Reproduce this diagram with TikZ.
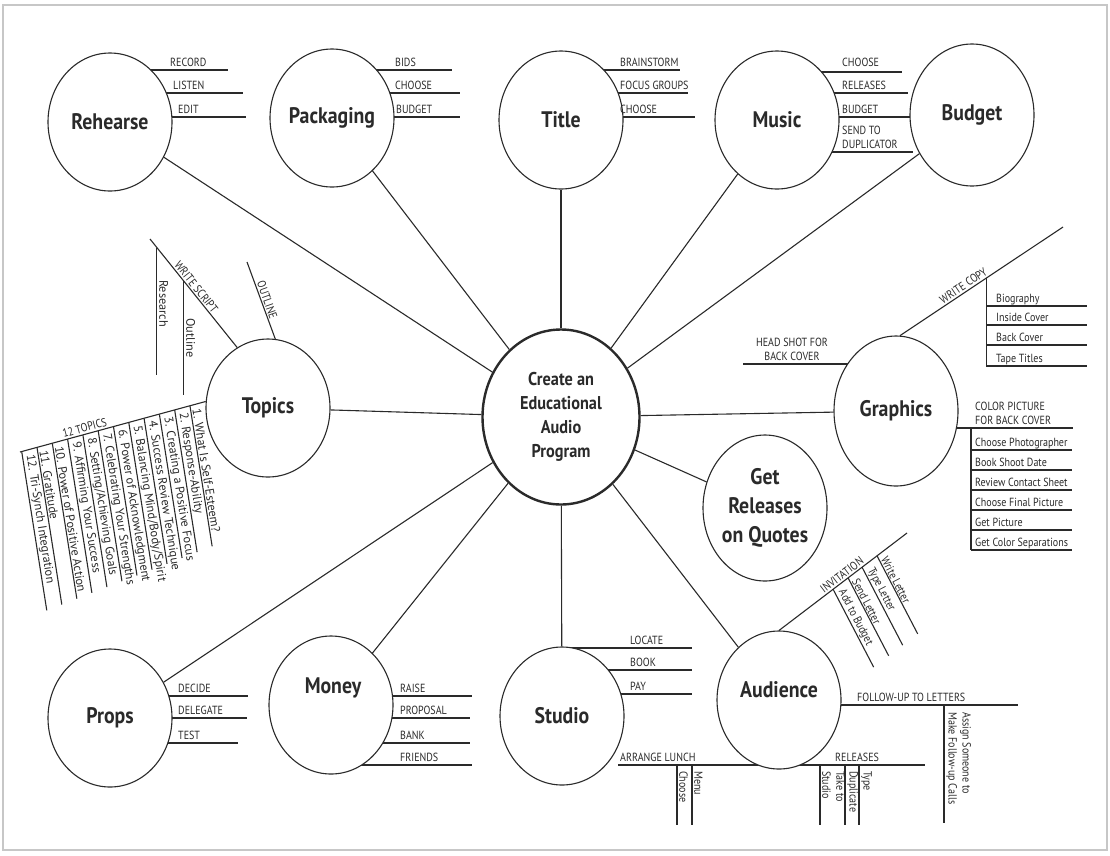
\documentclass[tikz,border=0pt]{standalone}
\usepackage{fontspec}
\setmainfont{PT Sans}
\newfontfamily\condf[FakeStretch=0.85]{PT Sans}
\newfontfamily\bubf[FakeStretch=0.88]{PT Sans}
\usetikzlibrary{shapes.geometric,calc}
\pgfdeclarelayer{bg}
\pgfsetlayers{bg,main}
\definecolor{ink}{HTML}{2A2A2A}
\tikzset{
  bub/.style={ellipse, draw=ink, line width=1.1pt, fill=white, inner sep=0pt,
    minimum width=124pt, minimum height=138pt, text=ink, align=center,
    font=\bubf\bfseries\fontsize{22.5}{29}\selectfont},
  btx/.style={inner sep=0pt, text=ink, font=\bubf\bfseries\fontsize{22.5}{29}\selectfont},
  lnk/.style={draw=ink, line width=1.1pt},
  br/.style={draw=ink, line width=1.1pt},
  tx/.style={inner sep=0pt, text=ink, font=\condf\fontsize{11.8}{14}\selectfont},
  tpx/.style={inner sep=0pt, text=ink, font=\fontsize{12.3}{14}\selectfont},
  tl/.style={tx, anchor=base west},
}
\begin{document}
\begin{tikzpicture}[x=1pt,y=-1pt]
\useasboundingbox (0,0) rectangle (1110,855);
\draw[black!22, line width=1.2pt] (3,5) rectangle (1107,850);

% bubbles
\node[bub] (reh) at (110,122) {Rehearse};
\node[bub] (pkg) at (332,118) {Packaging};
\node[bub] (tit) at (561,120) {Title};
\node[bub] (mus) at (777,120) {Music};
\node[bub, minimum height=142pt] (bud) at (972,115) {Budget};
\node[bub] (top) at (268,408) {Topics};
\node[bub, line width=2.4pt, minimum width=157pt, minimum height=175pt,
  font=\bubf\bfseries\fontsize{18.5}{24}\selectfont] (ctr) at (561,417)
  {Create an\\Educational\\Audio\\Program};
\node[bub, minimum height=150pt] (gra) at (896,411) {Graphics};
\node[bub, minimum height=146pt] (rel) at (765,508) {Get\\Releases\\on Quotes};
\node[bub] (prp) at (110,718) {Props};
\node[bub] (mon) at (331,705) {};
\node[btx] (monT) at (333,688) {Money};
\node[bub] (stu) at (562,716) {Studio};
\node[bub] (aud) at (779,700) {};
\node[btx] (audT) at (779,690) {Audience};

% hub connectors
\foreach \n in {reh,pkg,tit,mus,bud,top,gra,rel,prp,mon,stu,aud}
  \draw[lnk] (ctr) -- (\n);

\begin{pgfonlayer}{bg}
% Rehearse
\draw[br] (reh.center |- 0,70) -- (228,70);
\draw[br] (reh.center |- 0,93) -- (243,93);
\draw[br] (reh.center |- 0,117) -- (246,117);
% Packaging
\draw[br] (pkg.center |- 0,70) -- (452,70);
\draw[br] (pkg.center |- 0,93) -- (460,93);
\draw[br] (pkg.center |- 0,117) -- (460,117);
% Title
\draw[br] (tit.center |- 0,70) -- (680,70);
\draw[br] (tit.center |- 0,93) -- (688,93);
\draw[br] (tit.center |- 0,117) -- (695,117);
% Music
\draw[br] (mus.center |- 0,72) -- (902,72);
\draw[br] (mus.center |- 0,93) -- (908,93);
\draw[br] (mus.center |- 0,117) -- (913,117);
\draw[br] (mus.center |- 0,152) -- (913,152);
% Props
\draw[br] (prp.center |- 0,696) -- (248,696);
\draw[br] (prp.center |- 0,718) -- (247,718);
\draw[br] (prp.center |- 0,743) -- (238,743);
% Money
\draw[br] (mon.center |- 0,696) -- (472,696);
\draw[br] (mon.center |- 0,718) -- (470,718);
\draw[br] (mon.center |- 0,743) -- (470,743);
\draw[br] (mon.center |- 0,765) -- (472,765);
% Studio
\draw[br] (stu.center |- 0,648) -- (692,648);
\draw[br] (stu.center |- 0,670) -- (692,670);
\draw[br] (stu.center |- 0,694) -- (692,694);
% Graphics
\draw[br] (743,364) -- (gra.center |- 0,364);
\draw[br] (gra.center |- 0,428) -- (1073,428);
% Audience
\draw[br] (aud.center |- 0,705) -- (1018,705);
\draw[br] (618,765) -- (925,765);
\end{pgfonlayer}

% texts of branches
\node[tl] (t1) at (170,66) {RECORD};
\node[tl] (t2) at (173,89) {LISTEN};
\node[tl] (t3) at (178,113) {EDIT};
\node[tl] (t4) at (395,66) {BIDS};
\node[tl] (t5) at (395,89) {CHOOSE};
\node[tl] (t6) at (396,113) {BUDGET};
\node[tl] (t7) at (620,66) {BRAINSTORM};
\node[tl] (t8) at (620,89) {FOCUS GROUPS};
\node[tl] (t9) at (620,113) {CHOOSE};
\node[tl] (t10) at (842,66) {CHOOSE};
\node[tl] (t11) at (842,89) {RELEASES};
\node[tl] (t12) at (842,113) {BUDGET};
\node[tx, anchor=south west, align=left] (t13) at (842,149) {SEND TO\\DUPLICATOR};
\node[tl] (t14) at (178,692) {DECIDE};
\node[tl] (t15) at (178,714) {DELEGATE};
\node[tl] (t16) at (178,739) {TEST};
\node[tl] (t17) at (400,692) {RAISE};
\node[tl] (t18) at (400,714) {PROPOSAL};
\node[tl] (t19) at (400,739) {BANK};
\node[tl] (t20) at (400,761) {FRIENDS};
\node[tl] (t21) at (630,644) {LOCATE};
\node[tl] (t22) at (630,666) {BOOK};
\node[tl] (t23) at (630,690) {PAY};

% Graphics details
\node[tx, anchor=south, align=center] (hs) at (792,361) {HEAD SHOT FOR\\BACK COVER};
\coordinate (wcE) at (1063,227);
\draw[br] (gra.87) -- (wcE)
  node[tx, pos=0.27, anchor=south west, rotate=34, yshift=1.5pt] (wct) {WRITE COPY}
  coordinate[pos=0.53] (wcj);
\coordinate (wcB) at (wcj |- 0,366);
\draw[br] (wcj) -- (wcB);
\foreach \y/\t [count=\i] in {306/Biography,325/Inside Cover,345/Back Cover,366/Tape Titles}{
  \draw[br] (wcj |- 0,\y) -- (1087,\y);
  \node[tl] (g\i) at (996,\y-4) {\t};
}
\node[tx, anchor=south west, align=left] (cp) at (975,425) {COLOR PICTURE\\FOR BACK COVER};
\draw[br] (971,428) -- (971,550);
\foreach \y/\t [count=\i] in {450/Choose Photographer,470/Book Shoot Date,490/Review Contact Sheet,510/Choose Final Picture,530/Get Picture,550/Get Color Separations}{
  \draw[br] (971,\y) -- (1072,\y);
  \node[tl] (c\i) at (975,\y-4) {\t};
}

% Audience details
\coordinate (invE) at (907,533);
\draw[br] (aud.north) -- (invE)
  node[tx, pos=0.36, anchor=south west, rotate=37.2, yshift=1.5pt] (invt) {INVITATION};
\foreach \x/\t [count=\i] in {833/Add to Budget,848/Send Letter,862/Type Letter,877/Write Letter}{
  \pgfmathsetmacro\yy{533+(907-\x)*97/128}
  \draw[br] (\x,\yy) -- ++(0.462*88,0.887*88);
  \node[tx, rotate=-62.5, anchor=south west, yshift=1pt] (iv\i) at ($(\x,\yy)+(0.462*5,0.887*5)$) {\t};
}
\node[tl] (fu) at (857,701) {FOLLOW-UP TO LETTERS};
\draw[br] (944,705) -- (944,823);
\node[tx, rotate=-90, anchor=south west, align=left] (asg) at (946,712) {Assign Someone to\\Make Follow-up Calls};
\node[tl] (al) at (620,761) {ARRANGE LUNCH};
\node[tl] (rl) at (835,761) {RELEASES};
\foreach \x in {677,692,820,845,859}
  \draw[br] (\x,765) -- (\x,825);
\node[tx, rotate=-90, anchor=south west] (ch) at (679,771) {Choose};
\node[tx, rotate=-90, anchor=south west] (mn) at (694,771) {Menu};
\node[tx, rotate=-90, anchor=south west, align=left] (ts) at (822,771) {Take to\\Studio};
\node[tx, rotate=-90, anchor=south west] (dp) at (847,771) {Duplicate};
\node[tx, rotate=-90, anchor=south west] (ty) at (861,771) {Type};

% Topics details
\coordinate (wsS) at (150,239);
\draw[br] (wsS) -- (top.117)
  node[tx, pos=0.25, anchor=south west, rotate=-51.6, yshift=1.5pt] (wst) {WRITE SCRIPT}
  coordinate[pos=0.0795] (rsj) coordinate[pos=0.386] (olj);
\draw[br] (rsj) -- (rsj |- 0,375);
\draw[br] (olj) -- (olj |- 0,395);
\node[tpx, rotate=-90, anchor=south west, yshift=1pt] (rst) at (158,280) {Research};
\node[tpx, rotate=-90, anchor=south west, yshift=1pt] (olt) at (185,318) {Outline};
\coordinate (olS) at (247,262);
\draw[br] (olS) -- (top.84)
  node[tx, pos=0.27, anchor=south west, rotate=-70.7, yshift=1.5pt] (olT) {OUTLINE};
\coordinate (tpE) at (20,452);
\draw[br] (top.174) -- (tpE);
\node[tx, rotate=15.1, anchor=south, yshift=1pt] (tp0) at (86,433) {12 TOPICS};
\foreach \t [count=\k] in {1. What Is Self-Esteem?,2. Response-Ability,3. Creating a Positive Focus,4. Success Review Technique,5. Balancing Mind/Body/Spirit,6. Power of Acknowledgment,7. Celebrating Your Strengths,8. Setting/Achieving Goals,9. Affirming Your Success,10. Power of Positive Action,11. Gratitude,12. Tri-Synch Integration}{
  \pgfmathsetmacro\xs{190-(\k-1)*15.3}
  \pgfmathsetmacro\ys{402+(205-\xs)*50/185}
  \pgfmathsetmacro\len{142+(\k-1)*1.7}
  \draw[br] (\xs,\ys) -- ++(0.156*\len,0.988*\len);
  \node[tpx, rotate=-81, anchor=south west, yshift=1.5pt] (tp\k) at ($(\xs,\ys)+(0.156*4,0.988*4)$) {\t};
}
\end{tikzpicture}
\end{document}
